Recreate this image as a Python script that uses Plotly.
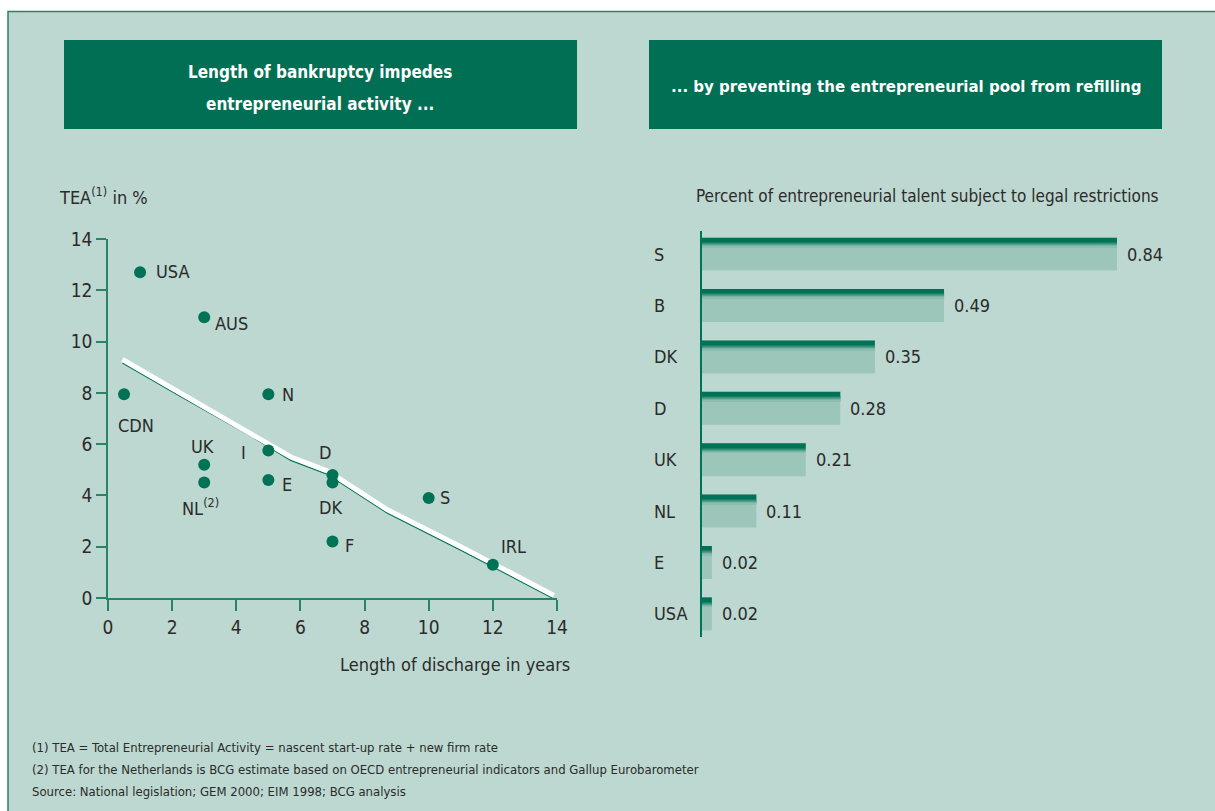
import plotly.graph_objects as go

# ---------------- data ----------------
countries = ["USA", "AUS", "CDN", "N", "UK", "NL<sup>(2)</sup>", "I", "E", "D", "DK", "S", "F", "IRL"]
discharge_years = [1, 3, 0.5, 5, 3, 3, 5, 5, 7, 7, 10, 7, 12]
tea_pct = [12.7, 10.95, 7.95, 7.95, 5.2, 4.5, 5.75, 4.6, 4.8, 4.5, 3.9, 2.2, 1.3]

trend_x = [0.45, 2.25, 4.45, 5.7, 6.85, 8.7, 11.0, 13.9]
trend_y = [9.3, 8.0, 6.45, 5.5, 4.95, 3.45, 2.0, 0.1]

bar_countries = ["S", "B", "DK", "D", "UK", "NL", "E", "USA"]
restricted_share = [0.84, 0.49, 0.35, 0.28, 0.21, 0.11, 0.02, 0.02]

x_ticks = [0, 2, 4, 6, 8, 10, 12, 14]
y_ticks = [0, 2, 4, 6, 8, 10, 12, 14]

left_title = ["Length of bankruptcy impedes", "entrepreneurial activity ..."]
right_title = "... by preventing the entrepreneurial pool from refilling"

footnotes = [
    "(1) TEA = Total Entrepreneurial Activity = nascent start-up rate + new firm rate",
    "(2) TEA for the Netherlands is BCG estimate based on OECD entrepreneurial indicators and Gallup Eurobarometer",
    "Source: National legislation; GEM 2000; EIM 1998; BCG analysis",
]

# ---------------- style ----------------
W, H = 1215, 811
FONT = "DejaVu Sans Condensed, Liberation Sans Narrow, sans-serif"
TXT = "#2b2b2b"
BG = "#bdd8d0"
DARK = "#006f53"
DOT = "#007256"
AXIS = "#2a8267"
BAR_LIGHT = "#9dc6bb"
LBL = 18

# label placement around each dot: (xanchor, xshift px, yshift px)
label_pos = [
    ("left", 14, 1), ("left", 9, -6), ("center", 12, -31), ("left", 12, 0),
    ("center", -2, 18), ("center", -4, -24), ("right", -20, -2), ("left", 12, -4),
    ("center", -8, 22), ("center", -2, -25), ("left", 9, 0), ("left", 10, -4),
    ("left", 6, 18),
]

# bar geometry in category units (one category = 51.4 px)
CAT_PX = 51.43
BAR_W = 33 / CAT_PX
# darker strips along the top edge of each bar, fading into the bar: (from px, to px, colour)
top_strips = [
    (0, 4.8, "#007256"), (4.8, 5.8, "#1a8064"), (5.8, 6.8, "#368f78"),
    (6.8, 7.8, "#55a08a"), (7.8, 8.8, "#78b3a3"), (8.8, 9.6, "#8dbdb0"),
]


def px_x(p):
    return p / W


def px_y(p):
    return 1 - p / H


def note(text, x, y, size=LBL, xanchor="center", **kw):
    return dict(text=text, x=x, y=y, xref=kw.pop("xref", "paper"), yref=kw.pop("yref", "paper"),
                xanchor=xanchor, yanchor="middle", showarrow=False,
                font=dict(family=FONT, size=size, color=kw.pop("color", TXT)), **kw)


fig = go.Figure()

# trend line: thin green shadow under a white stroke
fig.add_trace(go.Scatter(
    x=trend_x, y=[v - 0.13 for v in trend_y], mode="lines",
    line=dict(color=DOT, width=1.3), hoverinfo="skip", showlegend=False,
    xaxis="x", yaxis="y"))
fig.add_trace(go.Scatter(
    x=trend_x, y=trend_y, mode="lines",
    line=dict(color="white", width=5), hoverinfo="skip", showlegend=False,
    xaxis="x", yaxis="y"))

# country dots
fig.add_trace(go.Scatter(
    x=discharge_years, y=tea_pct, mode="markers",
    marker=dict(color=DOT, size=12), hoverinfo="skip", showlegend=False,
    xaxis="x", yaxis="y", cliponaxis=False))

# horizontal bars
fig.add_trace(go.Bar(
    x=restricted_share, y=bar_countries, orientation="h",
    marker=dict(color=BAR_LIGHT, line=dict(width=0)),
    width=BAR_W, offset=-BAR_W / 2, hoverinfo="skip", showlegend=False,
    xaxis="x2", yaxis="y2"))
for a, b, col in top_strips:
    fig.add_trace(go.Bar(
        x=restricted_share, y=bar_countries, orientation="h",
        marker=dict(color=col, line=dict(width=0)),
        width=(b - a) / CAT_PX, offset=BAR_W / 2 - b / CAT_PX,
        hoverinfo="skip", showlegend=False, xaxis="x2", yaxis="y2"))

shapes = [
    # panel background with thin green frame on top and left
    dict(type="rect", xref="paper", yref="paper", x0=px_x(8), x1=1.02, y0=-0.02, y1=px_y(11.5),
         fillcolor=BG, line=dict(color=AXIS, width=1.5), layer="below"),
    # title boxes
    dict(type="rect", xref="paper", yref="paper", x0=px_x(64), x1=px_x(577), y0=px_y(129), y1=px_y(40),
         fillcolor=DARK, line=dict(width=0), layer="below"),
    dict(type="rect", xref="paper", yref="paper", x0=px_x(649), x1=px_x(1162), y0=px_y(129), y1=px_y(40),
         fillcolor=DARK, line=dict(width=0), layer="below"),
]

annotations = [
    note(f"<b>{left_title[0]}</b>", px_x(320), px_y(72), size=17, color="white"),
    note(f"<b>{left_title[1]}</b>", px_x(320), px_y(104), size=17, color="white"),
    note(f"<b>{right_title}</b>", px_x(906), px_y(86), size=16.7, color="white"),
    note("TEA<sup>(1)</sup> in %", px_x(57), px_y(196), xanchor="left"),
    note("Length of discharge in years", px_x(572), px_y(664), xanchor="right"),
    note("Percent of entrepreneurial talent subject to legal restrictions",
         px_x(1161), px_y(196), size=17, xanchor="right"),
]

for i, line in enumerate(footnotes):
    annotations.append(note(line, px_x(30), px_y(747 + 22 * i), size=13, xanchor="left"))

for name, xv, yv, (anc, dx, dy) in zip(countries, discharge_years, tea_pct, label_pos):
    annotations.append(note(name, xv, yv, xanchor=anc, xref="x", yref="y", xshift=dx, yshift=dy))

for name, v in zip(bar_countries, restricted_share):
    annotations.append(note(name, px_x(652), name, xanchor="left", yref="y2"))
    annotations.append(note(f"{v:.2f}", v, name, xanchor="left", xref="x2", yref="y2", xshift=8))

fig.update_layout(
    width=W, height=H, margin=dict(l=0, r=0, t=0, b=0, autoexpand=False),
    paper_bgcolor="white", plot_bgcolor="rgba(0,0,0,0)",
    barmode="overlay", showlegend=False,
    shapes=shapes, annotations=annotations,
    font=dict(family=FONT, color=TXT),
    xaxis=dict(domain=[px_x(108), px_x(557)], range=[0, 14], anchor="y", automargin=False,
               tickvals=x_ticks, ticks="outside", ticklen=11, tickcolor=AXIS, tickwidth=1.5,
               showline=True, linecolor=AXIS, linewidth=1.5, showgrid=False, zeroline=False,
               tickfont=dict(family=FONT, size=19, color=TXT)),
    yaxis=dict(domain=[px_y(598), px_y(239)], range=[0, 14], anchor="x", automargin=False,
               tickvals=y_ticks, ticks="outside", ticklen=10, tickcolor=AXIS, tickwidth=1.5,
               showline=True, linecolor=AXIS, linewidth=1.5, showgrid=False, zeroline=False,
               tickfont=dict(family=FONT, size=19, color=TXT)),
    xaxis2=dict(domain=[px_x(702), px_x(1195)], range=[0, (1195 - 702) / 494], anchor="y2",
                visible=False, showgrid=False, zeroline=False, automargin=False),
    yaxis2=dict(domain=[px_y(637), px_y(231)], range=[-0.45, 7.45], anchor="x2", automargin=False,
                type="category", categoryorder="array", categoryarray=list(reversed(bar_countries)),
                showticklabels=False, ticks="", showgrid=False, zeroline=False,
                showline=True, linecolor=DOT, linewidth=2),
)

fig.write_html("out.html")
